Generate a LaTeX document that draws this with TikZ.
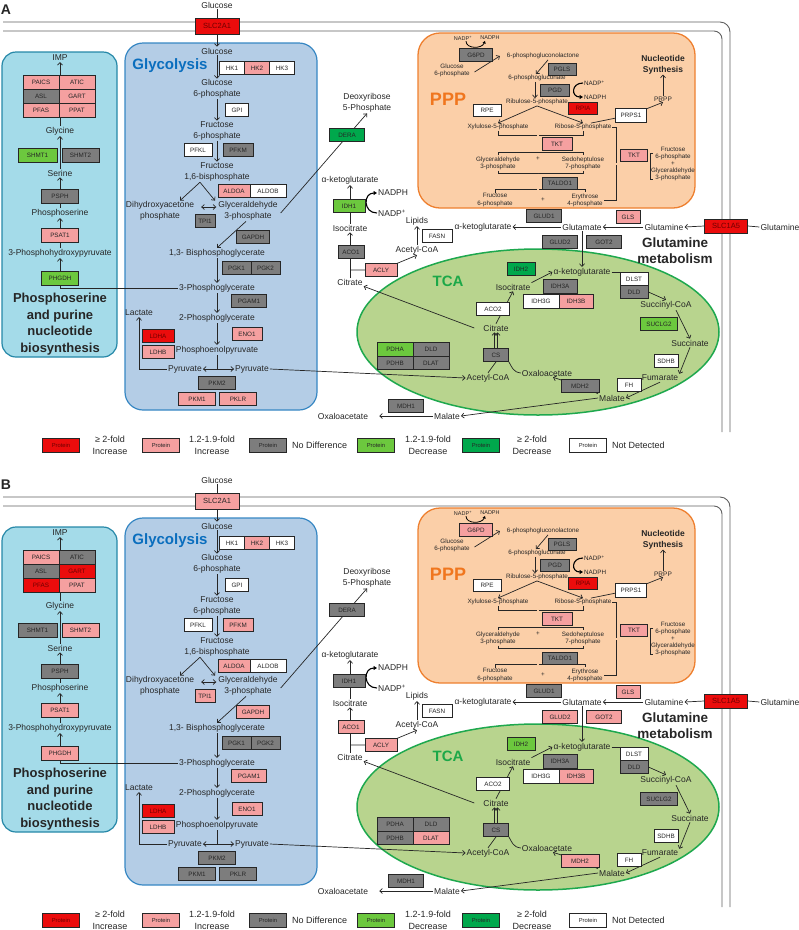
\documentclass[tikz,border=0pt]{standalone}
\usepackage{fontspec}
\setmainfont{Liberation Sans}
\usetikzlibrary{arrows.meta,calc}

\definecolor{ink}{RGB}{38,38,38}
\definecolor{membgray}{RGB}{95,95,95}
\definecolor{upred}{RGB}{235,12,12}
\definecolor{upredtext}{RGB}{110,0,0}
\definecolor{uppink}{RGB}{245,160,160}
\definecolor{ndgray}{RGB}{125,125,125}
\definecolor{dnlight}{RGB}{108,200,62}
\definecolor{dndark}{RGB}{0,168,76}
\definecolor{purfill}{RGB}{164,219,233}
\definecolor{purline}{RGB}{38,136,168}
\definecolor{glyfill}{RGB}{180,205,230}
\definecolor{glyline}{RGB}{55,135,195}
\definecolor{glytitle}{RGB}{10,110,190}
\definecolor{pppfill}{RGB}{251,207,168}
\definecolor{pppline}{RGB}{238,128,48}
\definecolor{ppptitle}{RGB}{240,118,30}
\definecolor{tcafill}{RGB}{184,212,142}
\definecolor{tcaline}{RGB}{30,168,78}
\definecolor{tcatitle}{RGB}{28,168,72}

\pgfdeclarelayer{back}
\pgfdeclarelayer{lines}
\pgfsetlayers{back,lines,main}

\tikzset{
    met/.style={font=\fontsize{8.5}{10.5}\selectfont, text=ink, inner sep=1pt, align=center},
    sm/.style={font=\fontsize{6.3}{7.2}\selectfont, text=ink, inner sep=0.8pt, align=center},
    key/.style={font=\fontsize{9}{12}\selectfont, text=ink, inner sep=1pt, align=center},
    ttl/.style={font=\bfseries\fontsize{13}{16.5}\selectfont, text=ink, inner sep=0pt, align=center},
    enz/.style={draw=ink, line width=0.8pt, inner sep=0pt, minimum height=13pt,
        font=\fontsize{6.3}{7}\selectfont, text=ink},
    up2/.style={fill=upred, text=upredtext},
    up1/.style={fill=uppink},
    nd/.style={fill=ndgray},
    dn1/.style={fill=dnlight},
    dn2/.style={fill=dndark},
    nq/.style={fill=white},
    conn/.style={draw=ink, line width=0.7pt},
    cof/.style={draw=black, line width=1.1pt, -{Triangle[length=3.5pt,width=4pt]}},
    cofs/.style={draw=black, line width=0.8pt, -{Triangle[length=2.6pt,width=3pt]}},
    dbl/.style={draw=ink, double=pppfill, double distance=1.4pt, line width=0.5pt},
    memb/.style={draw=membgray, line width=0.9pt},
    % protein levels of panel A
    panelA/.style={c-SLC2A1/.style=up2, c-PFKM/.style=nd, c-TPI1/.style=nd,
        c-GAPDH/.style=nd, c-PGAM1/.style=nd, c-PKM1/.style=up1, c-PKLR/.style=up1,
        c-ATIC/.style=up1, c-GART/.style=up1, c-PFAS/.style=up1, c-SHMT1/.style=dn1,
        c-SHMT2/.style=nd, c-PHGDH/.style=dn1, c-DERA/.style=dn2, c-IDH1/.style=dn1,
        c-ACO1/.style=nd, c-GLUD2/.style=nd, c-GOT2/.style=nd, c-IDH2/.style=dn2,
        c-SUCLG2/.style=dn1, c-MDH2/.style=nd, c-PDHA/.style=dn1, c-DLAT/.style=nd,
        c-G6PD/.style=nd},
    % protein levels of panel B
    panelB/.style={c-SLC2A1/.style=up1, c-PFKM/.style=up1, c-TPI1/.style=up1,
        c-GAPDH/.style=up1, c-PGAM1/.style=up1, c-PKM1/.style=nd, c-PKLR/.style=nd,
        c-ATIC/.style=nd, c-GART/.style=up2, c-PFAS/.style=up2, c-SHMT1/.style=nd,
        c-SHMT2/.style=up1, c-PHGDH/.style=up1, c-DERA/.style=nd, c-IDH1/.style=nd,
        c-ACO1/.style=up1, c-GLUD2/.style=up1, c-GOT2/.style=up1, c-IDH2/.style=dn1,
        c-SUCLG2/.style=nd, c-MDH2/.style=up1, c-PDHA/.style=nd, c-DLAT/.style=up1,
        c-G6PD/.style=up1},
}

\newcommand{\metpanel}{%
% Glucose uptake and glycolysis
\node[met] (glcout) at (217,5) {Glucose};
\node[enz, c-SLC2A1, minimum width=44, minimum height=16, font=\fontsize{7.5}{8}\selectfont] (SLC2A1) at (217,26) {SLC2A1};
\node[met] (glc) at (217,51) {Glucose};
\node[ttl, text=glytitle, font=\bfseries\fontsize{15}{16}\selectfont] (glyname) at (170,66) {Glycolysis};
\node[enz, nq, minimum width=25] (HK1) at (232,68) {HK1};
\node[enz, up1, minimum width=25] (HK2) at (257,68) {HK2};
\node[enz, nq, minimum width=25] (HK3) at (282,68) {HK3};
\node[met] (g6p) at (217,89) {Glucose\\6-phosphate};
\node[enz, nq, minimum width=23] (GPI) at (237,110) {GPI};
\node[met] (f6p) at (217,131) {Fructose\\6-phosphate};
\node[enz, nq, minimum width=28] (PFKL) at (198,150) {PFKL};
\node[enz, c-PFKM, minimum width=30] (PFKM) at (238,150) {PFKM};
\node[met] (f16bp) at (217,172) {Fructose\\1,6-bisphosphate};
\node[enz, up1, minimum width=32] (ALDOA) at (234,191) {ALDOA};
\node[enz, nq, minimum width=36] (ALDOB) at (268,191) {ALDOB};
\node[met] (dhap) at (160,211) {Dihydroxyacetone\\phosphate};
\node[met] (gap) at (248,211) {Glyceraldehyde\\3-phosphate};
\node[enz, c-TPI1, minimum width=20] (TPI1) at (205,221) {TPI1};
\node[enz, c-GAPDH, minimum width=33] (GAPDH) at (253,237) {GAPDH};
\node[met] (bpg) at (217,253) {1,3- Bisphosphoglycerate};
\node[enz, nd, minimum width=29] (PGK1) at (236.5,268) {PGK1};
\node[enz, nd, minimum width=29] (PGK2) at (265.5,268) {PGK2};
\node[met] (pg3) at (217,288) {3-Phosphoglycerate};
\node[enz, c-PGAM1, minimum width=35] (PGAM1) at (249,301) {PGAM1};
\node[met] (pg2) at (217,318) {2-Phosphoglycerate};
\node[enz, up1, minimum width=30] (ENO1) at (247,334) {ENO1};
\node[met] (pep) at (217,350) {Phosphoenolpyruvate};
\node[met] (lac) at (139,313) {Lactate};
\node[enz, up2, minimum width=32] (LDHA) at (158,336) {LDHA};
\node[enz, up1, minimum width=32] (LDHB) at (158,352) {LDHB};
\node[met] (pyrL) at (185,369) {Pyruvate};
\node[met] (pyrR) at (252,369) {Pyruvate};
\node[enz, nd, minimum width=37] (PKM2) at (217,383) {PKM2};
\node[enz, c-PKM1, minimum width=37] (PKM1) at (197,399) {PKM1};
\node[enz, c-PKLR, minimum width=37] (PKLR) at (238,399) {PKLR};
% Serine and purine synthesis
\node[met] (IMP) at (60,58) {IMP};
\node[enz, up1, minimum width=36, minimum height=14] (PAICS) at (41,82.5) {PAICS};
\node[enz, c-ATIC, minimum width=36, minimum height=14] (ATIC) at (77,82.5) {ATIC};
\node[enz, nd, minimum width=36, minimum height=14] (ASL) at (41,96.5) {ASL};
\node[enz, c-GART, minimum width=36, minimum height=14] (GART) at (77,96.5) {GART};
\node[enz, c-PFAS, minimum width=36, minimum height=14] (PFAS) at (41,110.5) {PFAS};
\node[enz, up1, minimum width=36, minimum height=14] (PPAT) at (77,110.5) {PPAT};
\node[met] (gly) at (60,131) {Glycine};
\node[enz, c-SHMT1, minimum width=39, minimum height=14] (SHMT1) at (37.5,155) {SHMT1};
\node[enz, c-SHMT2, minimum width=37, minimum height=14] (SHMT2) at (80.5,155) {SHMT2};
\node[met] (ser) at (60,173) {Serine};
\node[enz, nd, minimum width=37, minimum height=14] (PSPH) at (60,196) {PSPH};
\node[met] (pser) at (60,213) {Phosphoserine};
\node[enz, up1, minimum width=37, minimum height=14] (PSAT1) at (60,235) {PSAT1};
\node[met] (php) at (60,253) {3-Phosphohydroxypyruvate};
\node[enz, c-PHGDH, minimum width=37, minimum height=14] (PHGDH) at (60,278) {PHGDH};
\node[ttl] (purname) at (60,324) {Phosphoserine\\and purine\\nucleotide\\biosynthesis};
% Between the pathways
\node[met] (dr5p) at (367,103) {Deoxyribose\\5-Phosphate};
\node[enz, c-DERA, minimum width=35] (DERA) at (347,135) {DERA};
\node[met] (akg1) at (350,180) {α-ketoglutarate};
\node[enz, c-IDH1, minimum width=32] (IDH1) at (349,206) {IDH1};
\node[met] (icit1) at (350,228) {Isocitrate};
\node[met, anchor=west] (nadph1) at (377,193) {NADPH};
\node[met, anchor=west] (nadp1) at (377,213) {NADP\textsuperscript{+}};
\node[enz, c-ACO1, minimum width=26] (ACO1) at (351,252) {ACO1};
\node[met] (cit1) at (350,282) {Citrate};
\node[enz, up1, minimum width=32] (ACLY) at (381,270) {ACLY};
\node[met] (lipids) at (417,221) {Lipids};
\node[met] (accoa1) at (417,250) {Acetyl-CoA};
\node[enz, nq, minimum width=30] (FASN) at (437,236) {FASN};
% Glutamine metabolism
\node[met] (akg2) at (483,227) {α-ketoglutarate};
\node[met] (glu) at (582,227) {Glutamate};
\node[met] (gln) at (664,227) {Glutamine};
\node[enz, up2, minimum width=43, minimum height=14, font=\fontsize{7.5}{8}\selectfont] (SLC1A5) at (726,226) {SLC1A5};
\node[met] (glnout) at (780,227) {Glutamine};
\node[enz, nd, minimum width=35] (GLUD1) at (544,216) {GLUD1};
\node[enz, up1, minimum width=24] (GLS) at (628,217) {GLS};
\node[enz, c-GLUD2, minimum width=35] (GLUD2) at (560,242) {GLUD2};
\node[enz, c-GOT2, minimum width=35] (GOT2) at (604,242) {GOT2};
\node[ttl, font=\bfseries\fontsize{13.5}{16}\selectfont] (glnname) at (675,251) {Glutamine\\metabolism};
% TCA cycle
\node[ttl, text=tcatitle, font=\bfseries\fontsize{15}{16}\selectfont] (tcaname) at (448,281) {TCA};
\node[enz, c-IDH2, minimum width=28] (IDH2) at (521,269) {IDH2};
\node[met] (icit2) at (513,287) {Isocitrate};
\node[met] (akg3) at (582,272) {α-ketoglutarate};
\node[enz, nd, minimum width=34, minimum height=14] (IDH3A) at (560,286) {IDH3A};
\node[enz, nq, minimum width=36, minimum height=14] (IDH3G) at (541,301) {IDH3G};
\node[enz, up1, minimum width=34, minimum height=14] (IDH3B) at (576,301) {IDH3B};
\node[enz, nq, minimum width=28] (DLST) at (634,279) {DLST};
\node[enz, nd, minimum width=28] (DLDb) at (634,292) {DLD};
\node[met] (succoa) at (666,305) {Succinyl-CoA};
\node[enz, c-SUCLG2, minimum width=37] (SUCLG2) at (659,324) {SUCLG2};
\node[met] (succ) at (690,343) {Succinate};
\node[enz, nq, minimum width=24] (SDHB) at (666,361) {SDHB};
\node[met] (fum) at (660,378) {Fumarate};
\node[enz, nq, minimum width=24] (FH) at (629,385) {FH};
\node[met] (mal2) at (612,398) {Malate};
\node[enz, c-MDH2, minimum width=38] (MDH2) at (580,386) {MDH2};
\node[met] (oaa2) at (547,373) {Oxaloacetate};
\node[met] (cit2) at (496,328) {Citrate};
\node[enz, nq, minimum width=33] (ACO2) at (493,309) {ACO2};
\node[enz, nd, minimum width=25] (CS) at (496,355) {CS};
\node[met] (accoa2) at (488,378) {Acetyl-CoA};
\node[enz, c-PDHA, minimum width=36, minimum height=13.5] (PDHA) at (395,349.5) {PDHA};
\node[enz, nd, minimum width=36, minimum height=13.5] (DLDa) at (431,349.5) {DLD};
\node[enz, nd, minimum width=36, minimum height=13.5] (PDHB) at (395,363) {PDHB};
\node[enz, c-DLAT, minimum width=36, minimum height=13.5] (DLAT) at (431,363) {DLAT};
\node[enz, nd, minimum width=35] (MDH1) at (406,406) {MDH1};
\node[met] (oaa1) at (343,416) {Oxaloacetate};
\node[met] (mal1) at (447,416) {Malate};
% Pentose phosphate pathway
\node[ttl, text=ppptitle, font=\bfseries\fontsize{18}{20}\selectfont] (pppname) at (448,99) {PPP};
\node[enz, c-G6PD, minimum width=33] (G6PD) at (476,55) {G6PD};
\node[sm, font=\fontsize{5.5}{6}\selectfont] (nadp2) at (463,38) {NADP\textsuperscript{+}};
\node[sm, font=\fontsize{5.5}{6}\selectfont] (nadph2) at (490,38) {NADPH};
\node[sm] (g6p2) at (452,70) {Glucose\\6-phosphate};
\node[sm] (pgl) at (543,56) {6-phosphogluconolactone};
\node[enz, nd, minimum width=28, minimum height=12] (PGLS) at (562,69) {PGLS};
\node[sm] (pgn) at (537,78) {6-phosphogluconate};
\node[enz, nd, minimum width=29, minimum height=12] (PGD) at (555,90) {PGD};
\node[sm, anchor=west] (nadp3) at (583,83) {NADP\textsuperscript{+}};
\node[sm, anchor=west] (nadph3) at (583,97) {NADPH};
\node[sm] (ru5p) at (537,102) {Ribulose-5-phosphate};
\node[enz, up2, minimum width=29, minimum height=12] (RPIA) at (583,108) {RPIA};
\node[enz, nq, minimum width=28, minimum height=12] (RPE) at (487,110) {RPE};
\node[sm] (xu5p) at (498,127) {Xylulose-5-phosphate};
\node[sm] (r5p) at (583,127) {Ribose-5-phosphate};
\node[enz, up1, minimum width=30] (TKTa) at (557,144) {TKT};
\node[sm] (gap2) at (498,163) {Glyceraldehyde\\3-phosphate};
\node[sm] (plus1) at (538,159) {+};
\node[sm] (s7p) at (583,163) {Sedoheptulose\\7-phosphate};
\node[enz, nd, minimum width=35, minimum height=12] (TALDO1) at (560,183) {TALDO1};
\node[sm] (f6p2) at (495,200) {Fructose\\6-phosphate};
\node[sm] (plus2) at (543,200) {+};
\node[sm] (e4p) at (585,200) {Erythrose\\4-phosphate};
\node[enz, up1, minimum width=27, minimum height=12] (TKTb) at (634,155) {TKT};
\node[sm] (f6pgap) at (673,164) {Fructose\\6-phosphate\\+\\Glyceraldehyde\\3-phosphate};
\node[enz, nq, minimum width=31, minimum height=14] (PRPS1) at (631,115) {PRPS1};
\node[sm, font=\fontsize{6.5}{7}\selectfont] (prpp) at (663,99) {PRPP};
\node[ttl, font=\bfseries\fontsize{8.5}{11}\selectfont] (nucsyn) at (663,65) {Nucleotide\\Synthesis};
% Legend
\node[enz, up2, minimum width=37, minimum height=14, font=\fontsize{5.8}{6}\selectfont] (key1) at (61,445) {Protein};
\node[enz, up1, minimum width=37, minimum height=14, font=\fontsize{5.8}{6}\selectfont] (key2) at (161,445) {Protein};
\node[enz, nd, minimum width=37, minimum height=14, font=\fontsize{5.8}{6}\selectfont] (key3) at (268,445) {Protein};
\node[enz, dn1, minimum width=37, minimum height=14, font=\fontsize{5.8}{6}\selectfont] (key4) at (376,445) {Protein};
\node[enz, dn2, minimum width=37, minimum height=14, font=\fontsize{5.8}{6}\selectfont] (key5) at (481,445) {Protein};
\node[enz, nq, minimum width=37, minimum height=14, font=\fontsize{5.8}{6}\selectfont] (key6) at (588,445) {Protein};
\node[key] (keytxt1) at (110,445) {≥ 2-fold\\Increase};
\node[key] (keytxt2) at (212,445) {1.2-1.9-fold\\Increase};
\node[key, anchor=west] (keytxt3) at (291,445) {No Difference};
\node[key] (keytxt4) at (428,445) {1.2-1.9-fold\\Decrease};
\node[key] (keytxt5) at (532,445) {≥ 2-fold\\Decrease};
\node[key, anchor=west] (keytxt6) at (611,445) {Not Detected};

% Membranes and compartments
\begin{pgfonlayer}{back}
\draw[memb, rounded corners=10pt] (3,22) -- (730,22) -- (730,432);
\draw[memb, rounded corners=8pt] (3,31) -- (722,31) -- (722,432);
\draw[purline, fill=purfill, line width=1.2pt, rounded corners=14pt] (2,52) rectangle (117,357);
\draw[glyline, fill=glyfill, line width=1.2pt, rounded corners=18pt] (125,43) rectangle (317,410);
\draw[pppline, fill=pppfill, line width=1.3pt, rounded corners=22pt] (418,33) rectangle (695,208);
\draw[tcaline, fill=tcafill, line width=1.5pt] (538,332) ellipse [x radius=181, y radius=83];
\end{pgfonlayer}

% Reactions
\begin{pgfonlayer}{lines}
% glycolysis
\draw[conn] (glcout.south) -- (SLC2A1.north);
\draw[conn,->] (SLC2A1.south) -- (glc.north);
\draw[conn,->] (glc.south) -- (g6p.north);
\draw[conn,->] (g6p.south) -- (f6p.north);
\draw[conn,->] (f6p.south) -- (f16bp.north);
\draw[conn,->] ([xshift=-17pt]f16bp.south) -- ([xshift=20pt]dhap.north);
\draw[conn,->] ([xshift=-17pt]f16bp.south) -- ([xshift=-33pt]gap.north);
\draw[conn,<->] ([xshift=6pt,yshift=4pt]dhap.east) -- ([xshift=-1pt,yshift=4pt]gap.west);
\draw[conn,->] ([xshift=-2pt]gap.south) -- (bpg.north);
\draw[conn,->] (bpg.south) -- (pg3.north);
\draw[conn,->] (pg3.south) -- (pg2.north);
\draw[conn,->] (pg2.south) -- (pep.north);
\draw[conn] (pep.south) -- (pep.south |- pyrL.east) coordinate (pyrsplit);
\draw[conn,->] (pyrsplit) -- (pyrL.east);
\draw[conn,->] (pyrsplit) -- (pyrR.west);
\draw[conn,->] (pyrL.west) -| (lac.south);
% serine and purines
\draw[conn,->] (pg3.west) -| (php.south);
\draw[conn,->] (php.north) -- (pser.south);
\draw[conn,->] (pser.north) -- (ser.south);
\draw[conn,->] (ser.north) -- (gly.south);
\draw[conn,->] (gly.north) -- (IMP.south);
% side branches
\draw[conn,->] ([xshift=2pt,yshift=-2pt]gap.east) -- (dr5p.south);
\draw[conn,->] (icit1.north) -- (akg1.south);
\draw[cof] (nadp1.west) .. controls +(-14,0) and +(-14,0) .. (nadph1.west);
\draw[conn,->] (cit1.north) -- (icit1.south);
\draw[conn,->] (cit1.north |- ACLY.center) -- (ACLY.center) -- (accoa1.south);
\draw[conn,->] (accoa1.north) -- (lipids.south);
\draw[conn,->] (pyrR.east) -- (accoa2.west);
\draw[conn,->] ([xshift=-8pt]cit2.west) -- (cit1.south east);
\draw[conn,->] (mal2.west) -- (mal1.east);
\draw[conn,->] (mal1.west) -- ([xshift=10pt]oaa1.east);
% glutamine
\draw[conn] (glnout.west) -- (SLC1A5.east);
\draw[conn,->] (SLC1A5.west) -- (gln.east);
\draw[conn,->] (gln.west) -- (glu.east);
\draw[conn,->] (glu.west) -- (akg2.east);
\draw[conn,->] (glu.south) -- (akg3.north);
% TCA
\draw[conn] (accoa2.north) -- (CS.south);
\draw[conn] (oaa2.west) .. controls +(-8,-1) and +(3,5) .. (CS.south east);
\draw[conn,->] ([xshift=-1.5pt]CS.north) -- ([xshift=-1.5pt]cit2.south);
\draw[conn,->] ([xshift=1.5pt]CS.north) -- ([xshift=1.5pt]cit2.south);
\draw[conn,->] (cit2.north) -- (icit2.south);
\draw[conn,->] (icit2.north east) -- (akg3.west);
\draw[conn] (akg3.east) -- (akg3.east -| DLST.west);
\draw[conn,->] (DLDb.east) -- (succoa.north);
\draw[conn,->] ([xshift=10pt]succoa.south) -- (succ.north);
\draw[conn,->] (succ.south) -- (fum.north east);
\draw[conn,->] (fum.south) -- (mal2.east);
\draw[conn,->] (mal2.north west) -- (MDH2.center) -- ([xshift=6pt]oaa2.south);
% PPP
\draw[cofs] ([xshift=3pt]nadp2.south) .. controls +(0,8) and +(-3,8) .. ([xshift=-5pt]nadph2.south);
\draw[conn,->] ([xshift=4pt,yshift=-2pt]g6p2.east) -- ([xshift=-6pt]pgl.west);
\draw[conn,->] ([xshift=5pt]pgl.south) -- ([xshift=-1pt]pgn.north);
\draw[conn,->] ([xshift=-2pt]pgn.south) -- ([xshift=-2pt]ru5p.north);
\draw[cof] (nadp3.west) .. controls +(-12,0) and +(-12,0) .. (nadph3.west);
\draw[conn,->] (ru5p.south) -- (xu5p.north);
\draw[conn,->] (ru5p.south) -- (r5p.north);
\draw[conn] (xu5p.south) -- ++(0,4) coordinate (b1) -| (r5p.south);
\draw[conn] (gap2.north) -- ++(0,-3) coordinate (b2) -| (s7p.north);
\draw[conn] (gap2.south) -- ++(0,3) coordinate (b3) -| (s7p.south);
\draw[conn] (f6p2.north) -- ++(0,-3) coordinate (b4) -| (e4p.north);
\draw[dbl] (b1 -| plus1) -- (b2 -| plus1);
\draw[dbl] (b3 -| plus1) -- (b4 -| plus1);
\draw[conn] (r5p.east) -- ++(4,0) coordinate (rb) |- (e4p.east);
\draw[dbl] (rb |- f6pgap.west) -- (f6pgap.west);
\draw[conn] ([xshift=3pt,yshift=-8pt]f6pgap.north west) -- ([yshift=-8pt]f6pgap.north west)
    -- ([yshift=3pt]f6pgap.south west) -- ([xshift=3pt,yshift=3pt]f6pgap.south west);
\draw[conn,->] ([xshift=8pt]r5p.north) -- (PRPS1.center) -- (prpp.south);
\draw[conn,->] (prpp.north) -- (nucsyn.south);
\end{pgfonlayer}
}

\begin{document}
\begin{tikzpicture}[x=1pt, y=-1pt, >={Straight Barb[length=2.6pt,width=5pt]}]
\useasboundingbox (0,0) rectangle (799,930);

% Panel A
\begin{scope}[panelA, name prefix=A-]
\node[ttl, font=\bfseries\fontsize{14}{15}\selectfont] (tag) at (6,10) {A};
\metpanel
\end{scope}

% Panel B
\begin{scope}[panelB, name prefix=B-, yshift=-475pt]
\node[ttl, font=\bfseries\fontsize{14}{15}\selectfont] (tag) at (6,10) {B};
\metpanel
\end{scope}

\end{tikzpicture}
\end{document}
